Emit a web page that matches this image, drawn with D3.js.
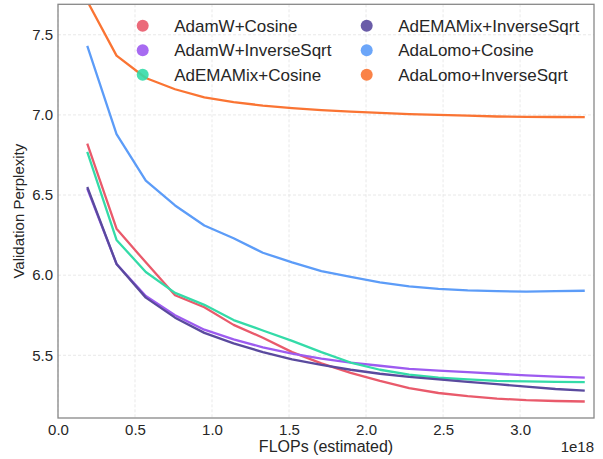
<!DOCTYPE html>
<html>
<head>
<meta charset="utf-8">
<script src="https://cdn.jsdelivr.net/npm/d3@7"></script>
<style>
  body { margin: 0; background: #fff; }
  svg { display: block; font-family: "Liberation Sans", Arial, sans-serif; }
</style>
</head>
<body>
<div id="visualization"></div>
<script>
// FLOPs (x 1e18) at each evaluation point
const flops = [0.19, 0.38, 0.57, 0.76, 0.95, 1.14, 1.33, 1.52, 1.71, 1.90, 2.09, 2.28, 2.47, 2.66, 2.85, 3.04, 3.23, 3.42];

const seriesNames = ['AdamW+Cosine', 'AdamW+InverseSqrt', 'AdEMAMix+Cosine', 'AdEMAMix+InverseSqrt', 'AdaLomo+Cosine', 'AdaLomo+InverseSqrt'];
const seriesColors = ['#e95a6b', '#9d5bf0', '#34dba8', '#5a4a9e', '#5c9cf8', '#fa7433'];

const adamwCosine = [6.82, 6.29, 6.08, 5.875, 5.80, 5.69, 5.61, 5.52, 5.45, 5.39, 5.34, 5.295, 5.265, 5.245, 5.23, 5.22, 5.215, 5.212];
const adamwInvSqrt = [6.54, 6.07, 5.87, 5.75, 5.66, 5.60, 5.55, 5.51, 5.48, 5.455, 5.435, 5.415, 5.405, 5.395, 5.385, 5.375, 5.367, 5.361];
const ademamixCosine = [6.77, 6.22, 6.02, 5.89, 5.815, 5.72, 5.655, 5.59, 5.52, 5.455, 5.41, 5.38, 5.36, 5.35, 5.34, 5.337, 5.335, 5.333];
const ademamixInvSqrt = [6.55, 6.07, 5.86, 5.735, 5.64, 5.575, 5.52, 5.475, 5.44, 5.41, 5.385, 5.365, 5.35, 5.335, 5.32, 5.305, 5.29, 5.28];
const adalomoCosine = [7.43, 6.88, 6.59, 6.435, 6.31, 6.23, 6.14, 6.08, 6.025, 5.99, 5.955, 5.93, 5.915, 5.905, 5.90, 5.898, 5.90, 5.903];
const adalomoInvSqrt = [7.71, 7.37, 7.23, 7.16, 7.11, 7.08, 7.058, 7.042, 7.03, 7.02, 7.012, 7.005, 7.0, 6.995, 6.99, 6.988, 6.987, 6.986];

const xTicks = [0.0, 0.5, 1.0, 1.5, 2.0, 2.5, 3.0];
const yTicks = [5.5, 6.0, 6.5, 7.0, 7.5];

const allSeries = [adamwCosine, adamwInvSqrt, ademamixCosine, ademamixInvSqrt, adalomoCosine, adalomoInvSqrt];

const totalWidth = 603;
const totalHeight = 459;
const margin = { top: 4.3, right: 9, bottom: 41, left: 58 };
const width = totalWidth - margin.left - margin.right;
const height = totalHeight - margin.top - margin.bottom;

const svgRoot = d3.select('#visualization')
  .append('svg')
  .attr('width', totalWidth)
  .attr('height', totalHeight);

const svg = svgRoot.append('g')
  .attr('transform', `translate(${margin.left},${margin.top})`);

// Scales
const x = d3.scaleLinear().domain([0, 3.48]).range([0, width]);
const y = d3.scaleLinear().domain([5.109, 7.69]).range([height, 0]);

// Grid
svg.append('g')
  .selectAll('line')
  .data(xTicks)
  .join('line')
  .attr('x1', d => x(d)).attr('x2', d => x(d))
  .attr('y1', 0).attr('y2', height)
  .attr('stroke', '#e3e3e3')
  .attr('stroke-width', 0.8)
  .attr('stroke-dasharray', '3,2');

svg.append('g')
  .selectAll('line')
  .data(yTicks)
  .join('line')
  .attr('x1', 0).attr('x2', width)
  .attr('y1', d => y(d)).attr('y2', d => y(d))
  .attr('stroke', '#e3e3e3')
  .attr('stroke-width', 0.8)
  .attr('stroke-dasharray', '3,2');

// Lines, clipped to the plot area
svg.append('clipPath')
  .attr('id', 'plot-clip')
  .append('rect')
  .attr('width', width)
  .attr('height', height);

const line = d3.line()
  .x((d, i) => x(flops[i]))
  .y(d => y(d));

svg.append('g')
  .attr('clip-path', 'url(#plot-clip)')
  .selectAll('path')
  .data(allSeries)
  .join('path')
  .attr('d', d => line(d))
  .attr('fill', 'none')
  .attr('stroke', (d, i) => seriesColors[i])
  .attr('stroke-width', 2.3)
  .attr('stroke-linejoin', 'round');

// Axes (no tick marks, just labels)
const xAxis = svg.append('g')
  .attr('transform', `translate(0,${height})`)
  .call(d3.axisBottom(x).tickValues(xTicks).tickFormat(d3.format('.1f')).tickSize(0).tickPadding(6));

const yAxis = svg.append('g')
  .call(d3.axisLeft(y).tickValues(yTicks).tickFormat(d3.format('.1f')).tickSize(0).tickPadding(5));

[xAxis, yAxis].forEach(ax => {
  ax.select('.domain').remove();
  ax.selectAll('text')
    .style('font-family', '"Liberation Sans", Arial, sans-serif')
    .style('font-size', '15px')
    .attr('fill', '#262626');
});

// Frame
svg.append('rect')
  .attr('width', width)
  .attr('height', height)
  .attr('fill', 'none')
  .attr('stroke', '#888')
  .attr('stroke-width', 1.3);

// Axis labels
svg.append('text')
  .attr('x', width / 2)
  .attr('y', height + 34.5)
  .attr('text-anchor', 'middle')
  .attr('fill', '#262626')
  .style('font-size', '16px')
  .text('FLOPs (estimated)');

svg.append('text')
  .attr('x', width)
  .attr('y', height + 34.5)
  .attr('text-anchor', 'end')
  .attr('fill', '#262626')
  .style('font-size', '15px')
  .text('1e18');

svg.append('text')
  .attr('transform', 'rotate(-90)')
  .attr('x', -height / 2)
  .attr('y', -34)
  .attr('text-anchor', 'middle')
  .attr('fill', '#262626')
  .style('font-size', '15px')
  .text('Validation Perplexity');

// Legend: two columns of three
const legendCols = [84.7, 308.7];
const legendRows = [21.5, 45.9, 70.5];

const legend = svg.append('g')
  .selectAll('g')
  .data(seriesNames)
  .join('g')
  .attr('transform', (d, i) => `translate(${legendCols[Math.floor(i / 3)]},${legendRows[i % 3]})`);

legend.append('circle')
  .attr('r', 6)
  .attr('fill', (d, i) => seriesColors[i])
  .attr('opacity', 0.9);

legend.append('text')
  .attr('x', 31.5)
  .attr('dy', '0.36em')
  .attr('fill', '#262626')
  .style('font-size', '17px')
  .text(d => d);
</script>
</body>
</html>
